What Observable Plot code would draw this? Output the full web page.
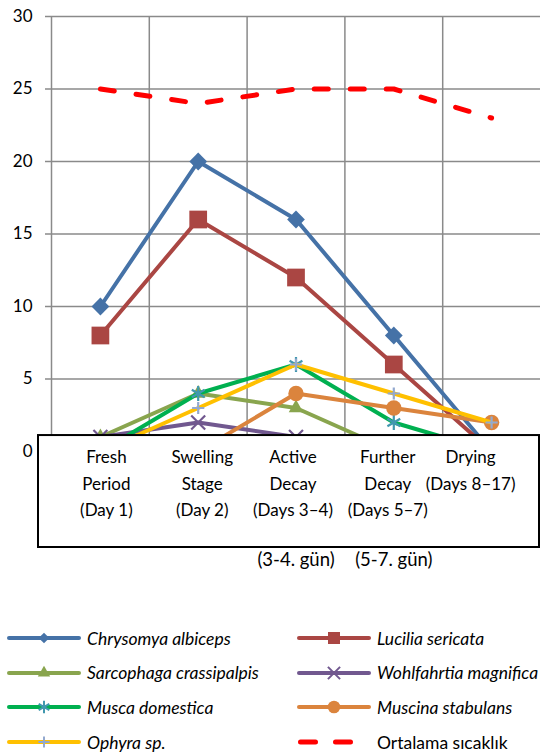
<!DOCTYPE html>
<html>
<head>
<meta charset="utf-8">
<script src="https://cdn.jsdelivr.net/npm/d3@7"></script>
<script src="https://cdn.jsdelivr.net/npm/@observablehq/plot@0.6"></script>
<style>
  html, body { margin: 0; padding: 0; background: #fff; overflow: hidden; }
  body { width: 540px; height: 753px; font-family: Lato, "Open Sans", sans-serif; color: #000; }
  #chart svg { display: block; }
  #legend { position: relative; width: 540px; height: 152px; overflow: hidden; }
  .item { position: absolute; display: flex; align-items: center; white-space: nowrap; height: 24px; }
  .item span { font-size: 17.5px; margin-left: 6px; }
  .item span.it { font-style: italic; }
</style>
</head>
<body>
<div id="chart"></div>
<div id="legend"></div>
<script>
// ---------- data ----------
const stages = ["Fresh Period (Day 1)", "Swelling Stage (Day 2)", "Active Decay (Days 3–4)", "Further Decay (Days 5–7)", "Drying (Days 8–17)"];
const stageLines = [
  ["Fresh", "Period", "(Day 1)"],
  ["Swelling", "Stage", "(Day 2)"],
  ["Active", "Decay", "(Days 3–4)"],
  ["Further", "Decay", "(Days 5–7)"],
  ["Drying", "(Days 8–17)"]
];
const stageTurkish = ["", "", "(3-4. gün)", "(5-7. gün)", ""];

const seriesNames = ["Chrysomya albiceps", "Lucilia sericata", "Sarcophaga crassipalpis", "Wohlfahrtia magnifica", "Musca domestica", "Muscina stabulans", "Ophyra sp.", "Ortalama sıcaklık"];
const chrysomyaAlbiceps      = [10, 20, 16, 8, 0];
const luciliaSericata        = [8, 16, 12, 6, 0];
const sarcophagaCrassipalpis = [1, 4, 3, 0, 0];
const wohlfahrtiaMagnifica   = [1, 2, 1, 0, 0];
const muscaDomestica         = [0, 4, 6, 2, 0];
const muscinaStabulans       = [0, 0, 4, 3, 2];
const ophyraSp               = [0, 3, 6, 4, 2];
const ortalamaSicaklik       = [25, 24, 25, 25, 23];
const yTicks = [0, 5, 10, 15, 20, 25, 30];

// ---------- styles ----------
const seriesValues = [chrysomyaAlbiceps, luciliaSericata, sarcophagaCrassipalpis, wohlfahrtiaMagnifica, muscaDomestica, muscinaStabulans, ophyraSp, ortalamaSicaklik];
const styles = [
  {line: "#4572A7", marker: "#4572A7", symbol: "diamond2", r: 8,   lr: 4.8, filled: true},
  {line: "#AA4643", marker: "#AA4643", symbol: "square",   r: 10,  lr: 6.8, filled: true},
  {line: "#89A54E", marker: "#89A54E", symbol: "triangle", r: 5.4, lr: 4.6, filled: true},
  {line: "#71588F", marker: "#71588F", symbol: "times",    r: 6.4, lr: 5.6, filled: false},
  {line: "#00B050", marker: "#4198AF", symbol: "asterisk", r: 7,   lr: 5.8, filled: false},
  {line: "#DB843D", marker: "#DB843D", symbol: "circle",   r: 7.7, lr: 6.3, filled: true},
  {line: "#FFC000", marker: "#93A9CF", symbol: "plus",     r: 4,   lr: 3.7, filled: false},
  {line: "#FF0000", dashed: true}
];
const GRID = "#8a8a8a";
const rows = seriesNames.flatMap((name, s) => seriesValues[s].map((value, i) => ({name, s, i, value})));

const marks = [
  Plot.gridY(yTicks, {stroke: GRID, strokeOpacity: 1, strokeWidth: 1.5}),
  Plot.ruleX(stages.map((_, i) => i - 0.5), {stroke: GRID, strokeWidth: 1.5}),
  Plot.axisY(yTicks, {tickSize: 6, tickPadding: 13, stroke: GRID, strokeWidth: 1.5, fill: "#000", fontSize: 17, label: null})
];

seriesNames.forEach((name, s) => {
  const data = rows.filter(d => d.s === s);
  const st = styles[s];
  marks.push(Plot.line(data, {
    x: "i", y: "value", stroke: st.line,
    strokeWidth: st.dashed ? 5 : 4,
    strokeDasharray: st.dashed ? "14,22" : undefined,
    strokeLinecap: "round", strokeLinejoin: "round"
  }));
  if (st.symbol) {
    marks.push(Plot.dot(data, {
      x: "i", y: "value", symbol: st.symbol, r: st.r,
      fill: st.filled ? st.marker : "none",
      stroke: st.filled ? "none" : st.marker,
      strokeWidth: st.filled ? 0 : 2.2
    }));
  }
});

// stage labels (drawn over the box)
const labelDx = [6, 4, -3, -6, -21];
stageLines.forEach((lines, i) => {
  marks.push(Plot.text([{i, text: lines.join("\n")}], {
    x: "i", text: "text", frameAnchor: "bottom", lineAnchor: "top",
    dy: -7, dx: labelDx[i], lineHeight: 1.56, fontSize: 17, fill: "#000"
  }));
});
marks.push(Plot.text(stageTurkish.map((text, i) => ({i, text})).filter(d => d.text), {
  x: "i", text: "text", frameAnchor: "bottom", lineAnchor: "top",
  dy: 101, fontSize: 18.5, fill: "#000"
}));

const chart = Plot.plot({
  width: 540, height: 601,
  marginLeft: 51, marginRight: 0, marginTop: 16, marginBottom: 150,
  x: {domain: [-0.5, stages.length - 0.5], axis: null},
  y: {domain: [0, 30], axis: null},
  style: {fontFamily: "Lato, 'Open Sans', sans-serif", background: "#fff", overflow: "visible"},
  marks
});
document.getElementById("chart").appendChild(chart);

// box that covers the bottom of the plot and holds the stage labels
const xs = chart.scale("x"), ys = chart.scale("y");
const bx1 = xs.apply(-0.5) - 13, bx2 = xs.apply(stages.length - 0.5) - 1;
const by1 = ys.apply(1.1), by2 = ys.apply(0) + 96;
d3.select(chart).insert("rect", "g[aria-label='text']")
  .attr("x", bx1).attr("y", by1).attr("width", bx2 - bx1).attr("height", by2 - by1)
  .attr("fill", "#fff").attr("stroke", "#000").attr("stroke-width", 2);

// ---------- legend ----------
const legend = d3.select("#legend");
const symbolMap = {diamond2: d3.symbolDiamond2, square: d3.symbolSquare, triangle: d3.symbolTriangle, times: d3.symbolTimes, asterisk: d3.symbolAsterisk, circle: d3.symbolCircle, plus: d3.symbolPlus};
seriesNames.forEach((name, s) => {
  const col = s % 2, row = Math.floor(s / 2);
  const st = styles[s];
  const item = legend.append("div").attr("class", "item")
    .style("left", (col ? 296 : 6) + "px")
    .style("top", (25 + row * 34.7) + "px");
  const sv = item.append("svg").attr("width", 75).attr("height", 24);
  const line = sv.append("line").attr("x1", 3).attr("x2", 73).attr("y1", 12).attr("y2", 12)
    .attr("stroke", st.line).attr("stroke-width", st.dashed ? 5 : 4).attr("stroke-linecap", "round");
  if (st.dashed) line.attr("stroke-dasharray", "15,20").attr("x1", 4.5);
  if (st.symbol) {
    sv.append("path").attr("transform", "translate(38,12)")
      .attr("d", d3.symbol(symbolMap[st.symbol], Math.PI * st.lr * st.lr)())
      .attr("fill", st.filled ? st.marker : "none")
      .attr("stroke", st.filled ? "none" : st.marker)
      .attr("stroke-width", st.filled ? 0 : 2);
  }
  item.append("span").attr("class", s < 7 ? "it" : null).text(name);
});
</script>
</body>
</html>
